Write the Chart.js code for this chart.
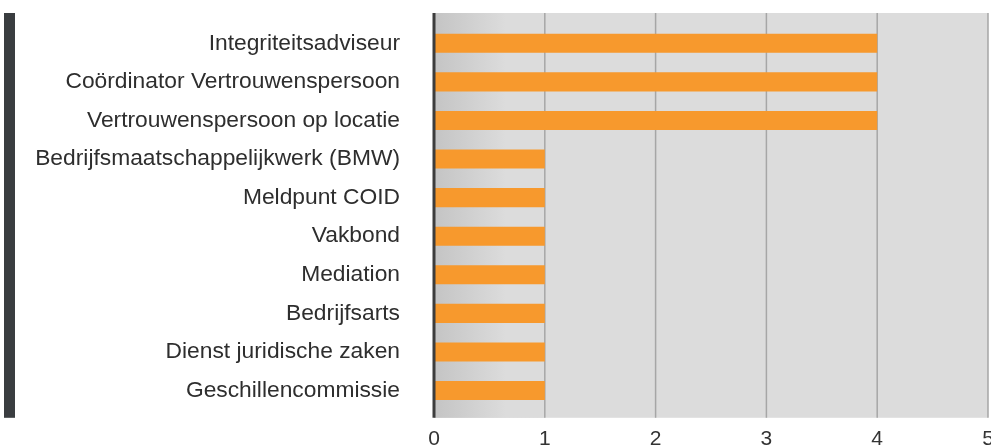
<!DOCTYPE html>
<html>
<head>
<meta charset="utf-8">
<script src="https://cdn.jsdelivr.net/npm/chart.js@4.4.1/dist/chart.umd.min.js"></script>
<style>
  html, body { margin: 0; padding: 0; background: #ffffff; overflow: hidden; }
  #wrap { position: absolute; left: 0; top: 0; width: 991px; height: 476px; }
</style>
</head>
<body>
<div id="wrap"><canvas id="c"></canvas></div>
<script>
const categories = [
  "Integriteitsadviseur",
  "Coördinator Vertrouwenspersoon",
  "Vertrouwenspersoon op locatie",
  "Bedrijfsmaatschappelijkwerk (BMW)",
  "Meldpunt COID",
  "Vakbond",
  "Mediation",
  "Bedrijfsarts",
  "Dienst juridische zaken",
  "Geschillencommissie"
];
const values = [4, 4, 4, 1, 1, 1, 1, 1, 1, 1];
const xTickValues = [0, 1, 2, 3, 4, 5];

const FONT = "'Liberation Sans', Arial, sans-serif";

const decor = {
  id: 'decor',
  beforeDatasetsDraw(chart) {
    const { ctx, chartArea, scales } = chart;
    const x = scales.x;
    const t = chartArea.top - 11, b = chartArea.bottom + 8;
    ctx.save();
    ctx.fillStyle = '#dcdcdc';
    ctx.fillRect(chartArea.left, t, chartArea.right - chartArea.left, b - t);
    const x0 = x.getPixelForValue(xTickValues[0]);
    const x1 = x.getPixelForValue(xTickValues[1]);
    const g = ctx.createLinearGradient(x0, 0, x1, 0);
    g.addColorStop(0, '#c4c4c4');
    g.addColorStop(0.65, '#dcdcdc');
    g.addColorStop(1, '#dcdcdc');
    ctx.fillStyle = g;
    ctx.fillRect(x0, t, x1 - x0, b - t);
    ctx.strokeStyle = '#a6a6a6';
    ctx.lineWidth = 1.5;
    xTickValues.slice(1).forEach(v => {
      const px = x.getPixelForValue(v);
      ctx.beginPath();
      ctx.moveTo(px, t);
      ctx.lineTo(px, b);
      ctx.stroke();
    });
    ctx.fillStyle = '#3a3d40';
    ctx.fillRect(4, t, 11, b - t);
    ctx.restore();
  },
  afterDatasetsDraw(chart) {
    const { ctx, chartArea, scales } = chart;
    const x = scales.x;
    const t = chartArea.top - 11, b = chartArea.bottom + 8;
    const px = x.getPixelForValue(0);
    ctx.save();
    ctx.strokeStyle = '#3d3d3d';
    ctx.lineWidth = 3;
    ctx.beginPath();
    ctx.moveTo(px, t);
    ctx.lineTo(px, b);
    ctx.stroke();
    ctx.restore();
  }
};

new Chart(document.getElementById('c'), {
  type: 'bar',
  data: {
    labels: categories,
    datasets: [{
      data: values,
      backgroundColor: '#f7992d',
      borderWidth: 0,
      categoryPercentage: 1,
      barPercentage: 0.494
    }]
  },
  options: {
    indexAxis: 'y',
    responsive: true,
    maintainAspectRatio: false,
    animation: false,
    layout: { padding: { left: 0, right: 3, top: 24, bottom: 7 } },
    plugins: { legend: { display: false }, tooltip: { enabled: false } },
    scales: {
      x: {
        min: 0,
        max: 5,
        afterBuildTicks(scale) { scale.ticks = xTickValues.map(v => ({ value: v })); },
        afterFit(scale) { scale.paddingLeft = 0; scale.paddingRight = 0; },
        grid: { display: false, drawTicks: false },
        border: { display: false },
        ticks: { color: '#333333', font: { family: FONT, size: 21 }, padding: 17, maxRotation: 0 }
      },
      y: {
        grid: { display: false, drawTicks: false },
        border: { display: false },
        afterFit(scale) { scale.width = 434; scale.paddingTop = 0; scale.paddingBottom = 0; },
        ticks: { color: '#2e2e2e', font: { family: FONT, size: 22.8 }, padding: 34, crossAlign: 'near' }
      }
    }
  },
  plugins: [decor]
});
</script>
</body>
</html>
